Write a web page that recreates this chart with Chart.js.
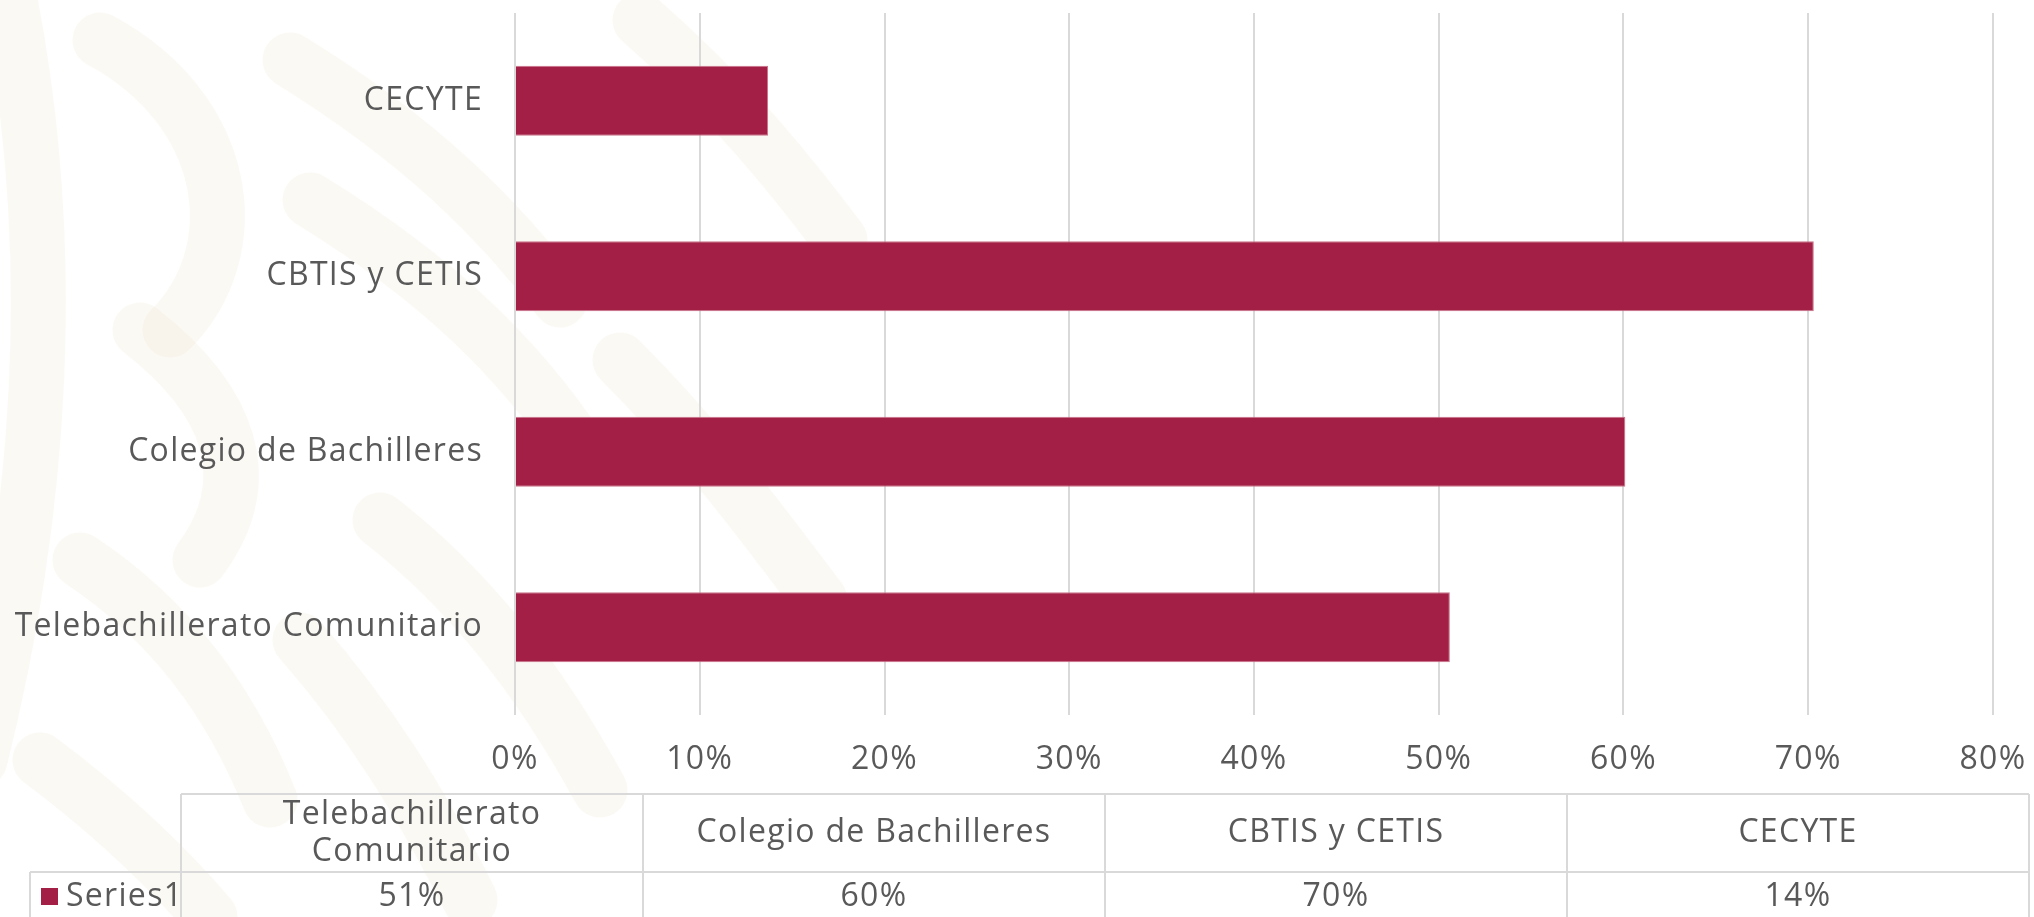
<!DOCTYPE html>
<html>
<head>
<meta charset="utf-8">
<script src="https://cdn.jsdelivr.net/npm/chart.js@4"></script>
<style>
  html, body { margin: 0; padding: 0; background: #ffffff; }
  .div__grafico { width: 2034px; height: 917px; position: relative; }
</style>
</head>
<body>
<div class="div__grafico"><canvas id="grafico"></canvas></div>
<script>
const categorias = ['Telebachillerato Comunitario', 'Colegio de Bachilleres', 'CBTIS y CETIS', 'CECYTE']
const valores = [0.506, 0.601, 0.703, 0.137]
const nombreSerie = 'Series1'
const ticksX = [0, 0.1, 0.2, 0.3, 0.4, 0.5, 0.6, 0.7, 0.8]

const colorBarra = '#a31f45'
const colorTexto = '#595959'
const colorLinea = '#d9d9d9'
const fuente = { family: "'Open Sans', 'Noto Sans', sans-serif", size: 32, weight: '400' }
const espaciado = '1.3px'

const pct = v => Math.round(v * 100) + '%'

// espaciado de letras (el lienzo se reinicia al cambiar de tamaño)
const letras = {
  id: 'letras',
  beforeUpdate(chart) { chart.ctx.letterSpacing = espaciado },
  beforeDraw(chart) { chart.ctx.letterSpacing = espaciado }
}

// marca de agua tenue a la izquierda
const fondo = {
  id: 'fondo',
  beforeDraw(chart) {
    const ctx = chart.ctx
    ctx.save()
    ctx.fillStyle = '#ffffff'
    ctx.fillRect(0, 0, chart.width, chart.height)
    ctx.strokeStyle = 'rgba(238, 226, 206, 0.22)'
    ctx.lineCap = 'round'
    ctx.lineWidth = 55
    const trazos = [
      [10, 0, 60, 260, 40, 520, -20, 760],
      [100, 40, 230, 110, 250, 250, 170, 330],
      [140, 330, 230, 400, 260, 480, 200, 560],
      [290, 60, 420, 140, 500, 220, 560, 300],
      [310, 200, 440, 280, 520, 360, 580, 450],
      [80, 560, 170, 620, 230, 700, 270, 800],
      [40, 760, 120, 820, 170, 870, 210, 917],
      [380, 520, 470, 590, 540, 680, 600, 790],
      [300, 640, 370, 720, 420, 800, 470, 900],
      [640, 20, 720, 90, 780, 160, 840, 240],
      [620, 360, 700, 440, 760, 520, 820, 600]
    ]
    trazos.forEach(t => {
      ctx.beginPath()
      ctx.moveTo(t[0], t[1])
      ctx.bezierCurveTo(t[2], t[3], t[4], t[5], t[6], t[7])
      ctx.stroke()
    })
    ctx.restore()
  }
}

// tabla de datos debajo del eje
const tablaDatos = {
  id: 'tablaDatos',
  afterDraw(chart) {
    const ctx = chart.ctx
    const etiquetas = chart.data.labels
    const datos = chart.data.datasets[0].data
    const izq = 181, anchoCol = 462, arriba = 794, medio = 872, abajo = 960, izqSerie = 30
    ctx.save()
    ctx.strokeStyle = colorLinea
    ctx.lineWidth = 2
    ctx.beginPath()
    ctx.moveTo(izq, arriba); ctx.lineTo(izq + anchoCol * etiquetas.length, arriba)
    ctx.moveTo(izqSerie, medio); ctx.lineTo(izq + anchoCol * etiquetas.length, medio)
    ctx.moveTo(izqSerie, medio); ctx.lineTo(izqSerie, abajo)
    for (let i = 0; i <= etiquetas.length; i++) {
      ctx.moveTo(izq + anchoCol * i, arriba); ctx.lineTo(izq + anchoCol * i, abajo)
    }
    ctx.stroke()

    ctx.font = `${fuente.weight} ${fuente.size}px ${fuente.family}`
    ctx.fillStyle = colorTexto
    ctx.textAlign = 'center'
    ctx.textBaseline = 'middle'
    etiquetas.forEach((et, i) => {
      const cx = izq + anchoCol * i + anchoCol / 2
      if (ctx.measureText(et).width > anchoCol - 40) {
        const partes = et.split(' ')
        ctx.fillText(partes[0], cx, 815)
        ctx.fillText(partes.slice(1).join(' '), cx, 852)
      } else {
        ctx.fillText(et, cx, 833)
      }
      ctx.fillText(pct(datos[i]), cx, 897)
    })

    ctx.fillStyle = colorBarra
    ctx.fillRect(41, 888, 17, 17)
    ctx.fillStyle = colorTexto
    ctx.textAlign = 'left'
    ctx.fillText(nombreSerie, 66, 897)
    ctx.restore()
  }
}

const $ctx = document.getElementById('grafico')

new Chart($ctx, {
  type: 'bar',
  data: {
    labels: categorias,
    datasets: [{
      label: nombreSerie,
      data: valores,
      backgroundColor: colorBarra,
      borderColor: '#c9738a',
      borderWidth: 1,
      categoryPercentage: 1,
      barPercentage: 0.4
    }]
  },
  options: {
    indexAxis: 'y',
    responsive: true,
    maintainAspectRatio: false,
    animation: false,
    layout: { padding: { top: 13, right: 41, left: 0, bottom: 0 } },
    plugins: {
      legend: { display: false },
      tooltip: { enabled: false }
    },
    scales: {
      x: {
        min: 0,
        max: 0.8,
        afterBuildTicks: scale => { scale.ticks = ticksX.map(v => ({ value: v })) },
        afterFit: scale => {
          scale.height = 202
          scale.paddingLeft = 0
          scale.paddingRight = 0
        },
        grid: { color: colorLinea, lineWidth: 2, drawTicks: false },
        border: { display: false },
        ticks: {
          color: colorTexto,
          font: fuente,
          padding: 26,
          maxRotation: 0,
          callback: v => pct(v)
        }
      },
      y: {
        reverse: true,
        afterFit: scale => {
          scale.width = 515
          scale.paddingTop = 0
          scale.paddingBottom = 0
        },
        grid: { display: false, drawTicks: false },
        border: { display: false },
        ticks: { color: colorTexto, font: fuente, padding: 32 }
      }
    }
  },
  plugins: [letras, fondo, tablaDatos]
})
</script>
</body>
</html>
